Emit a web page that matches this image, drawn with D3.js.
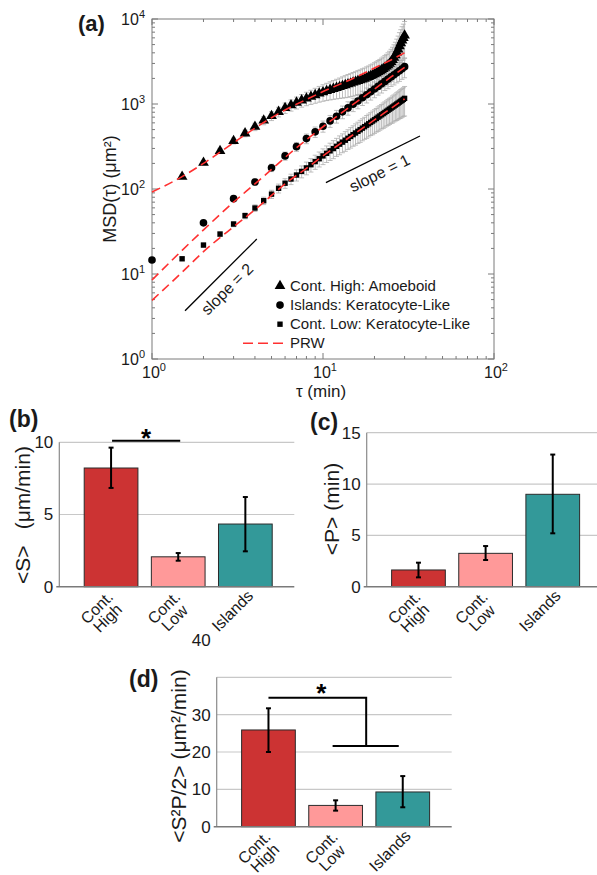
<!DOCTYPE html>
<html lang="en">
<head>
<meta charset="UTF-8">
<title>MSD and PRW parameters</title>
<script src="https://cdn.jsdelivr.net/npm/d3@7"></script>
<style>
  body { margin: 0; background: #fff; }
  svg { display: block; font-family: "Liberation Sans", Arial, Helvetica, sans-serif; }
</style>
</head>
<body>
<svg id="fig" width="597" height="875"></svg>
<script>
// ---------- panel (a): MSD curves ----------
const tauHalf = [1.5, 2, 2.5, 3, 3.5, 4, 4.5, 5, 5.5, 6, 6.5, 7, 7.5, 8, 8.5, 9, 9.5, 10, 10.5, 11,
  11.5, 12, 12.5, 13, 13.5, 14, 14.5, 15, 15.5, 16, 16.5, 17, 17.5, 18, 18.5, 19, 19.5, 20, 20.5, 21,
  21.5, 22, 22.5, 23, 23.5, 24, 24.5, 25, 25.5, 26, 26.5, 27, 27.5, 28, 28.5, 29, 29.5, 30];
const tauWhole = [1, 2, 3, 4, 5, 6, 7, 8, 9, 10, 11, 12, 13, 14, 15, 16, 17, 18, 19, 20,
  21, 22, 23, 24, 25, 26, 27, 28, 29, 30];

// Cont. High (triangles)
const msdHigh = [140, 204, 281, 368, 452, 540, 640, 725, 810, 900, 970, 1040, 1105, 1165, 1220, 1275, 1330, 1380, 1425, 1470,
  1510, 1550, 1590, 1630, 1670, 1710, 1750, 1790, 1830, 1870, 1910, 1950, 1990, 2040, 2090, 2140, 2190, 2250, 2310, 2370,
  2440, 2510, 2590, 2670, 2760, 2860, 2980, 3120, 3300, 3500, 3750, 4050, 4400, 4800, 5200, 5600, 6000, 6400];
const errHigh = [0.05, 0.06, 0.07, 0.08, 0.09, 0.10, 0.11, 0.12, 0.13, 0.14, 0.15, 0.16, 0.17, 0.18, 0.19, 0.20, 0.21, 0.22, 0.23, 0.24,
  0.25, 0.26, 0.27, 0.28, 0.29, 0.30, 0.30, 0.31, 0.31, 0.32, 0.32, 0.33, 0.33, 0.34, 0.34, 0.35, 0.35, 0.36, 0.36, 0.37,
  0.37, 0.38, 0.38, 0.39, 0.39, 0.40, 0.40, 0.41, 0.41, 0.42, 0.42, 0.43, 0.43, 0.44, 0.44, 0.45, 0.45, 0.46];

// Islands (circles)
const msdIslands = [14.6, 40, 77, 121, 178, 245, 315, 392, 470, 548, 632, 718, 808, 900, 992, 1085, 1185, 1285, 1390, 1500,
  1610, 1725, 1845, 1965, 2085, 2205, 2330, 2460, 2600, 2750];
const errIslands = [0.04, 0.05, 0.07, 0.09, 0.10, 0.11, 0.12, 0.13, 0.14, 0.15, 0.16, 0.17, 0.17, 0.18, 0.18, 0.19, 0.19, 0.20, 0.20, 0.21,
  0.21, 0.22, 0.22, 0.23, 0.23, 0.24, 0.24, 0.25, 0.25, 0.26];

// Cont. Low (squares)
const msdLow = [15.1, 21.9, 29.5, 38.7, 48.5, 59.7, 72.8, 87, 102, 117, 131, 146, 161, 177, 193, 210, 227, 245, 263, 281,
  299, 318, 337, 356, 375, 395, 415, 436, 456, 477, 498, 520, 541, 563, 585, 608, 630, 653, 676, 700,
  723, 747, 771, 795, 820, 845, 870, 895, 920, 946, 972, 998, 1025, 1052, 1079, 1106, 1134, 1165];
const errLow = [0.04, 0.05, 0.06, 0.07, 0.08, 0.09, 0.10, 0.11, 0.12, 0.13, 0.14, 0.15, 0.16, 0.17, 0.18, 0.19, 0.20, 0.21, 0.22, 0.23,
  0.24, 0.24, 0.25, 0.25, 0.26, 0.26, 0.27, 0.27, 0.28, 0.28, 0.29, 0.29, 0.29, 0.30, 0.30, 0.30, 0.31, 0.31, 0.31, 0.32,
  0.32, 0.32, 0.33, 0.33, 0.33, 0.34, 0.34, 0.34, 0.35, 0.35, 0.35, 0.36, 0.36, 0.36, 0.37, 0.37, 0.37, 0.38];

// PRW fits (red dashed)
const prwTau = [1, 1.5, 2, 3, 4, 5, 6, 8, 10, 15, 20, 25, 30];
const prwHigh = [92, 140, 200, 350, 520, 690, 850, 1130, 1400, 2000, 2650, 3300, 4000];
const prwIslands = [8.5, 19, 33, 70, 115, 170, 235, 380, 540, 990, 1500, 2080, 2700];
const prwLow = [4.9, 10.5, 18.3, 36, 57, 84, 115, 175, 245, 435, 650, 890, 1150];

// guide lines [tau, msd]
const slope2Line = [[1.56, 3.7], [4.1, 25.8]];
const slope1Line = [[10.4, 118.6], [36.9, 420]];

const legendItems = ["Cont. High: Amoeboid", "Islands: Keratocyte-Like", "Cont. Low: Keratocyte-Like", "PRW"];

// ---------- panels (b)-(d): bars ----------
const groups = ["Cont. High", "Cont. Low", "Islands"];
const groupLines = [["Cont.", "High"], ["Cont.", "Low"], ["Islands"]];
const groupColors = ["#cc3333", "#ff9999", "#339999"];

const speedMean = [8.22, 2.07, 4.34];
const speedLo = [6.84, 1.80, 2.45];
const speedHi = [9.63, 2.33, 6.21];

const persMean = [1.63, 3.25, 9.0];
const persLo = [0.91, 2.60, 5.2];
const persHi = [2.34, 3.96, 12.87];

const diffMean = [25.9, 5.7, 9.3];
const diffLo = [20.0, 4.3, 5.2];
const diffHi = [31.7, 7.06, 13.55];

const speedTicks = [0, 5, 10];
const persTicks = [0, 5, 10, 15];
const diffTicks = [0, 10, 20, 30, 40];

const svg = d3.select("#fig");
const textCol = "#1a1a1a";

// ================= panel (a) =================
const xA = d3.scaleLog().domain([1, 100]).range([152, 494]);
const yA = d3.scaleLog().domain([1, 10000]).range([359, 19]);
const gA = svg.append("g");

gA.append("rect")
  .attr("x", 152).attr("y", 19)
  .attr("width", 494 - 152).attr("height", 359 - 19)
  .attr("fill", "none").attr("stroke", "#7a7a7a").attr("stroke-width", 1);

function isDecade(t) {
  const l = Math.log10(t);
  return Math.abs(l - Math.round(l)) < 1e-9;
}

// inward ticks on all four sides
xA.ticks().forEach(t => {
  const len = isDecade(t) ? 6 : 3;
  const x = xA(t);
  gA.append("line").attr("x1", x).attr("x2", x).attr("y1", 359).attr("y2", 359 - len).attr("stroke", "#7a7a7a");
  gA.append("line").attr("x1", x).attr("x2", x).attr("y1", 19).attr("y2", 19 + len).attr("stroke", "#7a7a7a");
});
yA.ticks().forEach(t => {
  const len = isDecade(t) ? 6 : 3;
  const y = yA(t);
  gA.append("line").attr("x1", 152).attr("x2", 152 + len).attr("y1", y).attr("y2", y).attr("stroke", "#7a7a7a");
  gA.append("line").attr("x1", 494).attr("x2", 494 - len).attr("y1", y).attr("y2", y).attr("stroke", "#7a7a7a");
});

// tick labels 10^k
function powLabel(g, x, y, k, anchor) {
  const t = g.append("text").attr("x", x).attr("y", y)
    .attr("text-anchor", anchor).attr("font-size", 16).attr("fill", textCol);
  t.append("tspan").text("10");
  t.append("tspan").attr("dy", -7).attr("font-size", 11).text(k);
}
xA.ticks().filter(isDecade).forEach(t => powLabel(gA, xA(t) + 2, 378, Math.round(Math.log10(t)), "middle"));
yA.ticks().filter(isDecade).forEach(t => powLabel(gA, 145, yA(t) + 6, Math.round(Math.log10(t)), "end"));

// axis titles
gA.append("text").attr("x", 321).attr("y", 397).attr("text-anchor", "middle")
  .attr("font-size", 17).attr("fill", textCol).text("τ (min)");
gA.append("text").attr("transform", "translate(116,189) rotate(-90)").attr("text-anchor", "middle")
  .attr("font-size", 18).attr("fill", textCol).text("MSD(τ) (μm²)");

gA.append("text").attr("x", 78).attr("y", 31).attr("font-size", 22).attr("font-weight", "bold")
  .attr("fill", textCol).text("(a)");

// error bars
function errBars(tau, vals, rel) {
  tau.forEach((t, i) => {
    const v = vals[i], e = v * rel[i];
    const x = xA(t), y1 = yA(v + e), y2 = yA(v - e);
    gA.append("line").attr("x1", x).attr("x2", x).attr("y1", y1).attr("y2", y2)
      .attr("stroke", "#adadad").attr("stroke-width", 0.8);
    [y1, y2].forEach(yy => gA.append("line").attr("x1", x - 2.5).attr("x2", x + 2.5)
      .attr("y1", yy).attr("y2", yy).attr("stroke", "#adadad").attr("stroke-width", 0.8));
  });
}
errBars(tauHalf, msdHigh, errHigh);
errBars(tauWhole, msdIslands, errIslands);
errBars(tauHalf, msdLow, errLow);

// markers
const triSym = d3.symbol().type(d3.symbolTriangle).size(50);
const cirSym = d3.symbol().type(d3.symbolCircle).size(46);
const sqSym = d3.symbol().type(d3.symbolSquare).size(29);

function markers(tau, vals, sym) {
  gA.append("g").selectAll("path").data(vals).join("path")
    .attr("d", sym)
    .attr("transform", (d, i) => `translate(${xA(tau[i])},${yA(d)})`)
    .attr("fill", "#000");
}
markers(tauHalf, msdHigh, triSym);
markers(tauWhole, msdIslands, cirSym);
markers(tauHalf, msdLow, sqSym);

// PRW dashed lines
const prwLine = d3.line().x(d => xA(d[0])).y(d => yA(d[1])).curve(d3.curveMonotoneX);
[prwHigh, prwIslands, prwLow].forEach(vals => {
  gA.append("path").datum(prwTau.map((t, i) => [t, vals[i]]))
    .attr("d", prwLine).attr("fill", "none")
    .attr("stroke", "#ff3030").attr("stroke-width", 1.6).attr("stroke-dasharray", "9,5");
});

// slope guides
const guide = d3.line().x(d => xA(d[0])).y(d => yA(d[1]));
[slope2Line, slope1Line].forEach(l => {
  gA.append("path").datum(l).attr("d", guide).attr("stroke", "#000").attr("stroke-width", 1.3);
});
gA.append("text").attr("transform", "translate(231,293) rotate(-44.8)").attr("text-anchor", "middle")
  .attr("font-size", 16).attr("fill", textCol).text("slope = 2");
gA.append("text").attr("transform", "translate(382,178) rotate(-26.4)").attr("text-anchor", "middle")
  .attr("font-size", 16).attr("fill", textCol).text("slope = 1");

// legend
const legSyms = [triSym, cirSym, sqSym];
legendItems.forEach((name, i) => {
  const base = 291 + i * 19.1;
  if (i < 3) {
    gA.append("path").attr("d", legSyms[i]).attr("transform", `translate(280,${base - 5})`).attr("fill", "#000");
  } else {
    gA.append("line").attr("x1", 243).attr("x2", 283).attr("y1", base - 5).attr("y2", base - 5)
      .attr("stroke", "#ff3030").attr("stroke-width", 1.6).attr("stroke-dasharray", "10,5");
  }
  gA.append("text").attr("x", 290).attr("y", base).attr("font-size", 15).attr("fill", textCol).text(name);
});

// ================= bar panels =================
function barPanel(o) {
  const g = svg.append("g");
  const x1 = o.x0 + 235;
  const x = d3.scaleBand().domain(groups).range([o.x0, x1])
    .paddingInner(0.2).paddingOuter(0.35).align(0.53);
  const y = d3.scaleLinear().domain([0, o.max]).range([o.y0, o.yTop]);
  const cx = i => x(groups[i]) + x.bandwidth() / 2;

  g.selectAll(".grid").data(o.ticks.filter(t => t > 0)).join("line")
    .attr("x1", o.x0).attr("x2", x1)
    .attr("y1", d => y(d)).attr("y2", d => y(d))
    .attr("stroke", "#c8c8c8").attr("stroke-width", 1.2);

  g.append("line").attr("x1", o.x0).attr("x2", o.x0).attr("y1", y(0)).attr("y2", y(o.max))
    .attr("stroke", "#8a8a8a").attr("stroke-width", 1.2);

  g.selectAll(".bar").data(o.mean).join("rect")
    .attr("x", (d, i) => x(groups[i])).attr("width", x.bandwidth())
    .attr("y", d => y(d)).attr("height", d => y(0) - y(d))
    .attr("fill", (d, i) => groupColors[i]).attr("stroke", "#2b2b2b").attr("stroke-width", 1);

  g.append("line").attr("x1", o.x0 - 3).attr("x2", x1).attr("y1", y(0)).attr("y2", y(0))
    .attr("stroke", "#7a7a7a").attr("stroke-width", 1.4);

  // error bars
  o.mean.forEach((m, i) => {
    const xc = cx(i);
    g.append("line").attr("x1", xc).attr("x2", xc).attr("y1", y(o.hi[i])).attr("y2", y(o.lo[i]))
      .attr("stroke", "#000").attr("stroke-width", 2);
    [o.hi[i], o.lo[i]].forEach(v => g.append("line")
      .attr("x1", xc - 2.5).attr("x2", xc + 2.5).attr("y1", y(v)).attr("y2", y(v))
      .attr("stroke", "#000").attr("stroke-width", 2));
  });

  // y tick labels
  o.ticks.forEach(t => {
    const shift = (t === o.strayTick) ? o.strayShift : 0;
    g.append("text").attr("x", o.x0 - 6).attr("y", y(t) + shift).attr("dy", "0.35em")
      .attr("text-anchor", "end").attr("font-size", 17).attr("fill", textCol).text(t);
  });

  // category labels, rotated; single-line labels sit a little higher
  groupLines.forEach((lines, i) => {
    const single = lines.length === 1;
    const lg = g.append("g")
      .attr("transform", `translate(${cx(i) - (single ? 13 : 9)},${o.y0 + (single ? 24 : 26)}) rotate(-45)`);
    const lh = 15;
    lines.forEach((s, j) => {
      lg.append("text").attr("x", 0).attr("y", (j - (lines.length - 1) / 2) * lh)
        .attr("dy", "0.35em").attr("text-anchor", "middle")
        .attr("font-size", 16).attr("fill", textCol).text(s);
    });
  });

  // y title
  const tt = g.append("text").attr("transform", `translate(${o.titleX},${o.titleY}) rotate(-90)`)
    .attr("text-anchor", "middle").attr("font-size", o.titleSize).attr("fill", textCol);
  o.title.forEach((s, k) => tt.append("tspan").attr("dx", k ? o.titleGap : 0).text(s));

  g.append("text").attr("x", o.labelX).attr("y", o.labelY).attr("font-size", 23)
    .attr("font-weight", "bold").attr("fill", textCol).text(o.label);

  return { g, x, y, cx };
}

// (b) speed
const pb = barPanel({
  x0: 59.3, y0: 586.7, yTop: 442.3, max: 10, ticks: speedTicks,
  mean: speedMean, lo: speedLo, hi: speedHi,
  title: ["<S>", "(μm/min)"], titleGap: 16, titleSize: 21, titleX: 30, titleY: 515,
  label: "(b)", labelX: 9, labelY: 427
});
{
  const yb = pb.y(10.1);
  pb.g.append("line").attr("x1", pb.cx(0) + 1).attr("x2", pb.cx(1) + 2).attr("y1", yb).attr("y2", yb)
    .attr("stroke", "#000").attr("stroke-width", 2);
  pb.g.append("text").attr("x", (pb.cx(0) + pb.cx(1)) / 2 + 1.5).attr("y", yb + 6)
    .attr("text-anchor", "middle").attr("font-size", 26).attr("font-weight", "bold").text("*");
}

// (c) persistence
barPanel({
  x0: 366.7, y0: 586.7, yTop: 432.7, max: 15, ticks: persTicks,
  mean: persMean, lo: persLo, hi: persHi,
  title: ["<P>", "(min)"], titleGap: 6, titleSize: 21, titleX: 338.5, titleY: 509,
  label: "(c)", labelX: 310, labelY: 430
});

// (d) diffusion coefficient; the 40 label sits above its gridline in the original
const pd = barPanel({
  x0: 216.7, y0: 826.7, yTop: 677.3, max: 40, ticks: diffTicks,
  mean: diffMean, lo: diffLo, hi: diffHi, strayTick: 40, strayShift: -37,
  title: ["<S²P/2>", "(μm²/min)"], titleGap: 6, titleSize: 21, titleX: 185.5, titleY: 756,
  label: "(d)", labelX: 129, labelY: 687
});
{
  const yTop = pd.y(34.5), yLow = pd.y(21.6);
  const xMid = (pd.cx(1) + pd.cx(2)) / 2 - 3;
  const lineAttr = sel => sel.attr("stroke", "#000").attr("stroke-width", 2).attr("fill", "none");
  lineAttr(pd.g.append("path").attr("d", `M${pd.cx(0)},${yTop}H${xMid}V${yLow}`));
  lineAttr(pd.g.append("line").attr("x1", pd.cx(1) - 3).attr("x2", pd.cx(2) - 4)
    .attr("y1", yLow).attr("y2", yLow));
  pd.g.append("text").attr("x", (pd.cx(0) + xMid) / 2 + 4).attr("y", yTop + 4)
    .attr("text-anchor", "middle").attr("font-size", 26).attr("font-weight", "bold").text("*");
}
</script>
</body>
</html>
